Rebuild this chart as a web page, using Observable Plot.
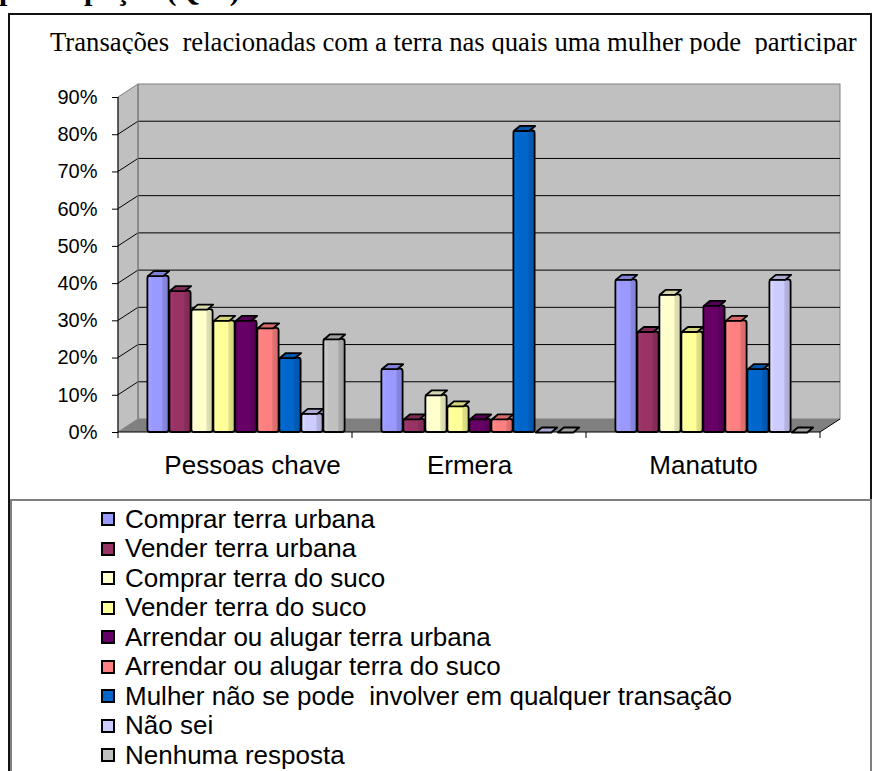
<!DOCTYPE html>
<html>
<head>
<meta charset="utf-8">
<script src="https://cdn.jsdelivr.net/npm/d3@7"></script>
<script src="https://cdn.jsdelivr.net/npm/@observablehq/plot@0.6"></script>
<style>
  html, body { margin: 0; padding: 0; background: #fff; }
  #page { position: relative; width: 874px; height: 771px; overflow: hidden; background: #fff; }
  #heading { position: absolute; left: -1px; top: -25px; font: bold 30px/30px "Liberation Serif", "Times New Roman", serif; white-space: pre; color: #000; }
  #frame { position: absolute; left: 8px; top: 13px; width: 860px; height: 820px; border: 2px solid #111; }
  #chart { position: absolute; left: 0; top: 0; }
  #titleClip { position: absolute; left: 50px; top: 29px; height: 24.5px; overflow: hidden; white-space: pre;
               font: 26.7px/27px "Liberation Serif", "Times New Roman", serif; color: #000; }
  #legendBox { position: absolute; left: 10px; top: 499px; width: 858px; height: 320px; border: 2px solid #7f7f7f; background: #fff; }
  .li { position: absolute; left: 0; height: 29.5px; width: 874px; }
  .sw { position: absolute; left: 101px; top: 7.5px; width: 10px; height: 10px; border: 2px solid #000; }
  .lt { position: absolute; left: 125px; top: 0; white-space: pre; font: 26px/29.5px "Liberation Sans", Arial, sans-serif; color: #000; }
</style>
</head>
<body>
<div id="page">
  <div id="frame"></div>
  <div id="heading"></div>
  <div id="chart"></div>
  <div id="titleClip"></div>
  <div id="legendBox"></div>
</div>
<script>
// ---------- data ----------
const headingText = "participação (Q13)";
const titleText = "Transações  relacionadas com a terra nas quais uma mulher pode  participar";
const categories = ["Pessoas chave", "Ermera", "Manatuto"];
const series = [
  "Comprar terra urbana",
  "Vender terra urbana",
  "Comprar terra do suco",
  "Vender terra do suco",
  "Arrendar ou alugar terra urbana",
  "Arrendar ou alugar terra do suco",
  "Mulher não se pode  involver em qualquer transação",
  "Não sei",
  "Nenhuma resposta"
];
const pessoasChave = [0.42, 0.38, 0.33, 0.30, 0.30, 0.28, 0.20, 0.05, 0.25];
const ermera       = [0.17, 0.035, 0.10, 0.07, 0.035, 0.035, 0.81, 0, 0];
const manatuto     = [0.41, 0.27, 0.37, 0.27, 0.34, 0.30, 0.17, 0.41, 0];
const yTicks = [0, 0.1, 0.2, 0.3, 0.4, 0.5, 0.6, 0.7, 0.8, 0.9];
const seriesColors = ["#9999FF", "#993366", "#FFFFCC", "#FFFF99", "#660066", "#FF8080", "#0066CC", "#CCCCFF", "#C0C0C0"];

// ---------- table ----------
const table = [];
[pessoasChave, ermera, manatuto].forEach((vals, ci) =>
  vals.forEach((v, si) => table.push({category: categories[ci], series: series[si], value: v, idx: si}))
);
const capColors = seriesColors.map(c => d3.color(c).darker(0.5).formatHex());

// ---------- texts ----------
document.getElementById("heading").textContent = headingText;
document.getElementById("titleClip").textContent = titleText;

// ---------- chart ----------
const DX = 20, DY = -13;           // depth of the 3-D walls
const capSymbol = {
  draw(context, size) {
    const h = Math.sqrt(size / Math.PI), s = 6, t = 5;
    context.moveTo(-h, 0);
    context.lineTo(h - s, 0);
    context.lineTo(h, -t);
    context.lineTo(-h + s, -t);
    context.closePath();
  }
};

const plot = Plot.plot({
  width: 874,
  height: 490,
  marginLeft: 118,
  marginRight: 54,
  marginTop: 97,
  marginBottom: 58,
  style: {background: "transparent", fontFamily: "'Liberation Sans', Arial, sans-serif", fontSize: "20px", color: "#000", overflow: "visible"},
  fx: {domain: categories, padding: 0, axis: null, label: null},
  x: {domain: series, paddingInner: 0, paddingOuter: 0.75, axis: null},
  y: {domain: [0, 0.9], ticks: yTicks, tickFormat: d3.format(".0%"), tickSize: 6, tickPadding: 15, label: null},
  color: {type: "identity"},
  marks: [
    Plot.barY(table, {fx: "category", x: "series", y: "value", fill: d => `url(#bar-grad-${d.idx})`,
      stroke: "#000", strokeWidth: 1.8, strokeLinejoin: "round", rx: 2.5, insetLeft: 0.4, insetRight: 0.4, dx: 11}),
    Plot.dot(table, {fx: "category", x: "series", y: "value", symbol: capSymbol, r: 10.7,
      fill: d => capColors[d.idx], stroke: "#000", strokeWidth: 1.8, strokeLinejoin: "round", dx: 11}),
    Plot.text(categories.slice(0, 1), {fx: d => d, text: d => d, frameAnchor: "bottom", lineAnchor: "bottom", dy: 41, dx: 17, fontSize: 26, fill: "#000"}),
    Plot.text(categories.slice(1), {fx: d => d, text: d => d, frameAnchor: "bottom", lineAnchor: "bottom", dy: 41, fontSize: 26, fill: "#000"})
  ]
});

const svg = d3.select(plot);
// gradients for the column faces
const defs = svg.insert("defs", ":first-child");
seriesColors.forEach((c, i) => {
  const base = d3.color(c);
  const g = defs.append("linearGradient").attr("id", `bar-grad-${i}`)
    .attr("x1", 0).attr("x2", 1).attr("y1", 0).attr("y2", 0);
  [[0, base.brighter(0.25)], [0.25, base], [0.70, base], [0.72, base.darker(0.35)], [1, base.darker(0.5)]]
    .forEach(([o, col]) => g.append("stop").attr("offset", o).attr("stop-color", col.formatHex()));
});

// 3-D walls and floor, drawn from the plot's own scales
const fxs = plot.scale("fx"), ys = plot.scale("y");
const left = fxs.apply(categories[0]);
const right = fxs.apply(categories[categories.length - 1]) + fxs.bandwidth;
const y0 = ys.apply(0), yTop = ys.apply(yTicks[yTicks.length - 1]);
const deco = svg.insert("g", "g").attr("aria-label", "walls");
deco.append("rect").attr("x", left + DX).attr("y", yTop + DY).attr("width", right - left).attr("height", y0 - yTop)
  .attr("fill", "#c0c0c0").attr("stroke", "#808080");
deco.append("path").attr("d", `M${left},${yTop}L${left + DX},${yTop + DY}L${left + DX},${y0 + DY}L${left},${y0}Z`)
  .attr("fill", "#c0c0c0").attr("stroke", "#808080");
deco.append("path").attr("d", `M${left},${y0}L${right},${y0}L${right + DX},${y0 + DY}L${left + DX},${y0 + DY}Z`)
  .attr("fill", "#808080");
yTicks.slice(1, -1).forEach(t => {
  const yy = ys.apply(t);
  deco.append("line").attr("x1", left + DX).attr("x2", right + DX).attr("y1", yy + DY).attr("y2", yy + DY).attr("stroke", "#000");
  deco.append("line").attr("x1", left).attr("x2", left + DX).attr("y1", yy).attr("y2", yy + DY).attr("stroke", "#000");
});
deco.append("line").attr("x1", left + DX).attr("x2", left + DX).attr("y1", yTop + DY).attr("y2", y0 + DY).attr("stroke", "#808080");
deco.append("line").attr("x1", left).attr("x2", left).attr("y1", yTop).attr("y2", y0).attr("stroke", "#000");
deco.append("line").attr("x1", left).attr("x2", right).attr("y1", y0).attr("y2", y0).attr("stroke", "#000");
deco.append("line").attr("x1", right).attr("x2", right + DX).attr("y1", y0).attr("y2", y0 + DY).attr("stroke", "#000");
categories.map(c => fxs.apply(c)).concat([right]).forEach(x => {
  deco.append("line").attr("x1", x).attr("x2", x).attr("y1", y0).attr("y2", y0 + 6).attr("stroke", "#000");
});

document.getElementById("chart").appendChild(plot);

// ---------- legend ----------
const page = document.getElementById("page");
series.forEach((s, i) => {
  const item = document.createElement("div");
  item.className = "li";
  item.style.top = (504.5 + i * 29.5) + "px";
  const sw = document.createElement("span");
  sw.className = "sw";
  sw.style.background = seriesColors[i];
  const lt = document.createElement("span");
  lt.className = "lt";
  lt.textContent = s;
  item.appendChild(sw);
  item.appendChild(lt);
  page.appendChild(item);
});
</script>
</body>
</html>
